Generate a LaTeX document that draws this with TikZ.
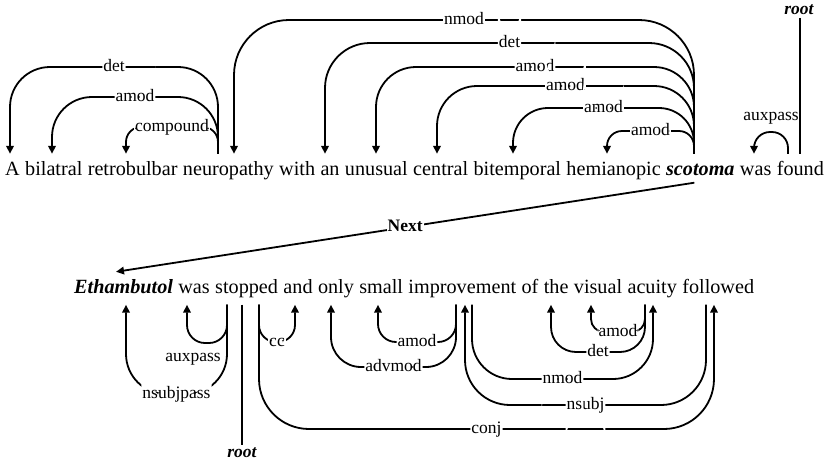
\documentclass[tikz,border=0pt]{standalone}
\usepackage{fontspec}
\setmainfont{Liberation Serif}
\usetikzlibrary{positioning,arrows.meta}

\begin{document}
\begin{tikzpicture}[x=1pt, y=-1pt,
	word/.style={inner xsep=0pt, inner ysep=7pt, text height=14pt, text depth=4.5pt, font=\fontsize{20.2}{24}\selectfont},
	keyword/.style={word, font=\fontsize{20.2}{24}\selectfont\bfseries\itshape},
	dep/.style={line width=1.8pt, ->, >={Triangle[length=8pt,width=7.5pt]}},
	lbl/.style={fill=white, inner xsep=1pt, inner ysep=0pt, text height=12pt, text depth=3.5pt, font=\fontsize{17.5}{20}\selectfont},
	tag/.style={lbl, font=\fontsize{17.5}{20}\selectfont\bfseries\itshape}]
	\useasboundingbox (0,0) rectangle (825,464);

	% first sentence
	\node[word, anchor=base west] (A) at (5,175) {A};
	\node[word, right=5pt of A] (bilatral) {bilatral};
	\node[word, right=5pt of bilatral] (retrobulbar) {retrobulbar};
	\node[word, right=5pt of retrobulbar] (neuropathy) {neuropathy};
	\node[word, right=5pt of neuropathy] (with) {with};
	\node[word, right=5pt of with] (an) {an};
	\node[word, right=5pt of an] (unusual) {unusual};
	\node[word, right=5pt of unusual] (central) {central};
	\node[word, right=5pt of central] (bitemporal) {bitemporal};
	\node[word, right=5pt of bitemporal] (hemianopic) {hemianopic};
	\node[keyword, right=5pt of hemianopic] (scotoma) {scotoma};
	\node[word, right=5pt of scotoma] (was) {was};
	\node[word, right=5pt of was] (found) {found};

	% second sentence
	\node[keyword, anchor=base west] (Ethambutol) at (74,293) {Ethambutol};
	\node[word, right=5pt of Ethambutol] (was2) {was};
	\node[word, right=5pt of was2] (stopped) {stopped};
	\node[word, right=5pt of stopped] (and) {and};
	\node[word, right=5pt of and] (only) {only};
	\node[word, right=5pt of only] (small) {small};
	\node[word, right=5pt of small] (improvement) {improvement};
	\node[word, right=5pt of improvement] (of) {of};
	\node[word, right=5pt of of] (the) {the};
	\node[word, right=5pt of the] (visual) {visual};
	\node[word, right=5pt of visual] (acuity) {acuity};
	\node[word, right=5pt of acuity] (followed) {followed};

	% arcs above the first sentence
	\draw[dep, rounded corners=40pt] (neuropathy.north -| 218,0) -- (218,67) -- node[lbl]{det} (10,67) -- (A.north -| 10,0);
	\draw[dep, rounded corners=40pt] (neuropathy.north -| 218,0) -- (218,97) -- node[lbl]{amod} (52,97) -- (bilatral.north -| 52,0);
	\draw[dep, rounded corners=15pt] (neuropathy.north -| 218,0) -- (218,127) -- node[lbl]{compound} (126,127) -- (retrobulbar.north -| 126,0);
	\draw[dep, rounded corners=55pt] (scotoma.north -| 694,0) -- (694,20) -- node[lbl]{nmod} (234,20) -- (neuropathy.north -| 234,0);
	\draw[dep, rounded corners=45pt] (scotoma.north -| 694,0) -- (694,43) -- node[lbl]{det} (325,43) -- (an.north -| 325,0);
	\draw[dep, rounded corners=40pt] (scotoma.north -| 694,0) -- (694,67) -- node[lbl]{amod} (376,67) -- (unusual.north -| 376,0);
	\draw[dep, rounded corners=40pt] (scotoma.north -| 694,0) -- (694,86) -- node[lbl]{amod} (437,86) -- (central.north -| 437,0);
	\draw[dep, rounded corners=35pt] (scotoma.north -| 694,0) -- (694,108) -- node[lbl]{amod} (513,108) -- (bitemporal.north -| 513,0);
	\draw[dep, rounded corners=15pt] (scotoma.north -| 694,0) -- (694,131) -- node[lbl]{amod} (607,131) -- (hemianopic.north -| 607,0);
	\draw[dep, rounded corners=16pt] (found.north -| 788,0) -- (788,132) -- node[lbl, above=7pt]{auxpass} (754,132) -- (was.north -| 754,0);
	\node[tag] (root1) at (799,10) {root};
	\draw[line width=1.8pt] (root1.south -| 800,0) -- (found.north -| 800,0);

	\draw[dep] ([xshift=-6pt, yshift=4pt]scotoma.south) -- node[lbl, font=\fontsize{17.5}{20}\selectfont\bfseries]{Next} (Ethambutol.north -| 116,0);

	% arcs below the second sentence
	\draw[dep, rounded corners=40pt] (stopped.south -| 227,0) -- (227,394) -- node[lbl]{nsubjpass} (126,394) -- (Ethambutol.south -| 126,0);
	\draw[dep, rounded corners=18pt] (stopped.south -| 227,0) -- (227,343) -- node[lbl, below=6pt, xshift=-14pt]{auxpass} (187,343) -- (was2.south -| 187,0);
	\node[tag] (root2) at (242,453) {root};
	\draw[line width=1.8pt] (stopped.south -| 242,0) -- (root2.north);
	\draw[dep, rounded corners=17pt] (stopped.south -| 259,0) -- (259,342) -- node[lbl]{cc} (295,342) -- (and.south -| 295,0);
	\draw[dep, rounded corners=50pt] (stopped.south -| 259,0) -- (259,429) -- node[lbl]{conj} (714,429) -- (followed.south -| 714,0);
	\draw[dep, rounded corners=18pt] (improvement.south -| 456,0) -- (456,342) -- node[lbl]{amod} (378,342) -- (small.south -| 378,0);
	\draw[dep, rounded corners=30pt] (improvement.south -| 456,0) -- (456,367) -- node[lbl]{advmod} (331,367) -- (only.south -| 331,0);
	\draw[dep, rounded corners=45pt] (followed.south -| 706,0) -- (706,405) -- node[lbl]{nsubj} (465,405) -- (improvement.south -| 465,0);
	\draw[dep, rounded corners=40pt] (improvement.south -| 472,0) -- (472,379) -- node[lbl]{nmod} (653,379) -- (acuity.south -| 653,0);
	\draw[dep, rounded corners=13pt] (acuity.south -| 645,0) -- (645,332) -- node[lbl]{amod} (591,332) -- (visual.south -| 591,0);
	\draw[dep, rounded corners=25pt] (acuity.south -| 645,0) -- (645,352) -- node[lbl]{det} (551,352) -- (the.south -| 551,0);
\end{tikzpicture}
\end{document}
